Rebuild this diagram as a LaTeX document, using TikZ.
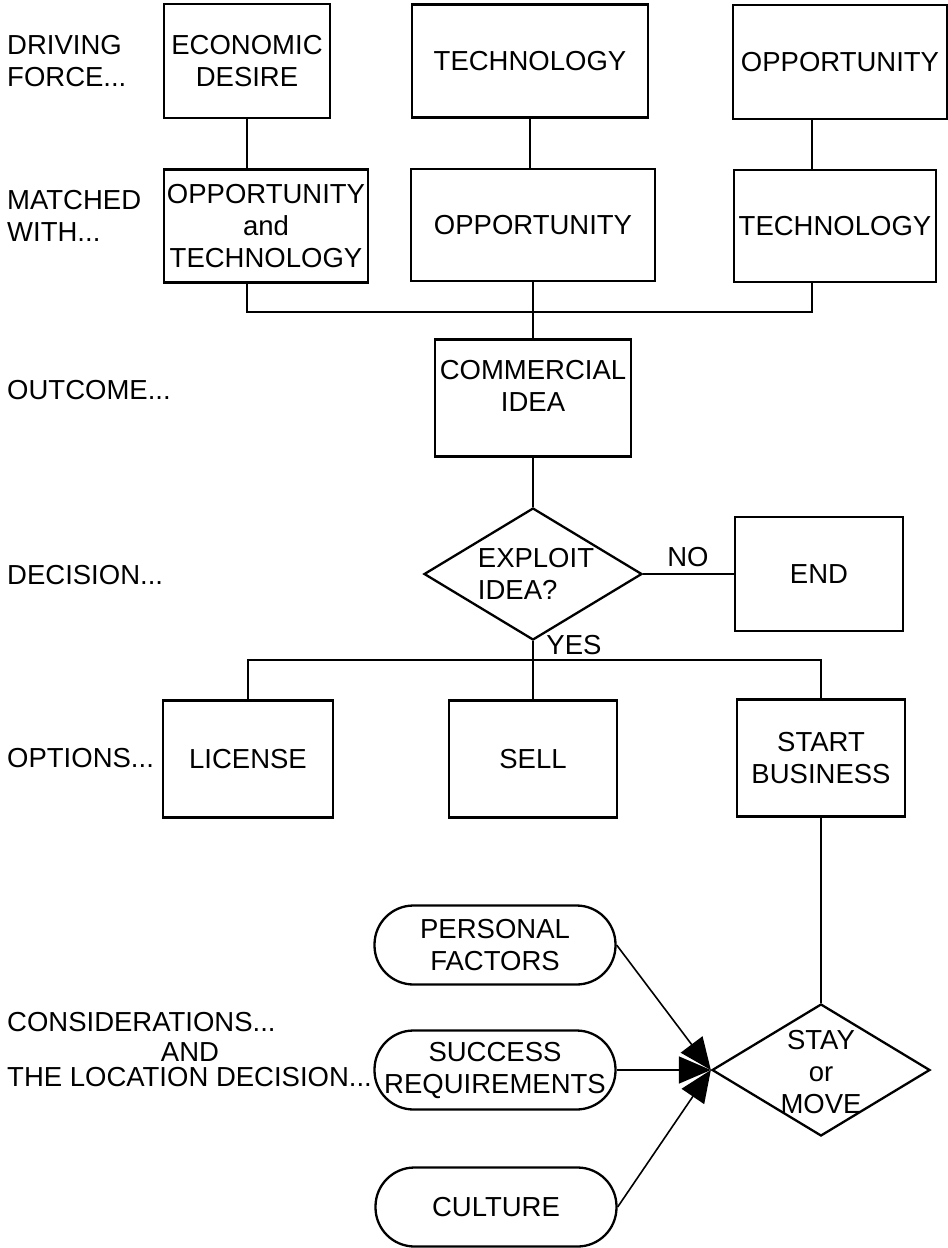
\documentclass[tikz,border=0pt]{standalone}
\usepackage{fontspec}
\setmainfont{Liberation Sans}
\usetikzlibrary{shapes.geometric,arrows.meta}

\begin{document}
\begin{tikzpicture}[x=1pt, y=-1pt,
    every node/.style={font=\fontsize{27.5}{32}\selectfont},
    box/.style={draw, line width=2.3pt, align=center, inner sep=0pt},
    pill/.style={draw, line width=2.3pt, rounded corners=39pt, align=center,
        minimum width=241pt, minimum height=79pt, inner sep=0pt},
    dia/.style={draw, diamond, line width=2.3pt, minimum width=218pt,
        minimum height=132pt, inner sep=0pt},
    lab/.style={anchor=west, align=left, inner sep=0pt},
    conn/.style={line width=2.3pt},
    arr/.style={line width=1.6pt, -{Triangle[length=32pt,width=27pt]}}]
            \useasboundingbox (0,0) rectangle (948,1248);
            % row labels
            \node[lab] (lforce) at (7,61) {DRIVING\\FORCE...};
            \node[lab] (lmatch) at (7,216) {MATCHED\\WITH...};
            \node[lab] (lout) at (7,390) {OUTCOME...};
            \node[lab] (ldec) at (7,575) {DECISION...};
            \node[lab] (lopt) at (7,758) {OPTIONS...};
            \node[lab] (lcons) at (7,1022) {CONSIDERATIONS...};
            \node[inner sep=0pt] (land) at (190,1052) {AND};
            \node[lab] (lloc) at (7,1077) {THE LOCATION DECISION...};
            % driving force and match
            \node[box, minimum width=166pt, minimum height=114pt] (econ) at (247,61) {ECONOMIC\\DESIRE};
            \node[box, minimum width=236pt, minimum height=113pt] (techtop) at (530,61) {TECHNOLOGY};
            \node[box, minimum width=214pt, minimum height=114pt] (opptop) at (840,62) {OPPORTUNITY};
            \node[box, minimum width=204pt, minimum height=113pt] (opptech) at (266,226) {OPPORTUNITY\\and\\TECHNOLOGY};
            \node[box, minimum width=244pt, minimum height=112pt] (oppmid) at (533,225) {OPPORTUNITY};
            \node[box, minimum width=202pt, minimum height=112pt] (techright) at (835,226) {TECHNOLOGY};
            \draw[conn] (econ.south) -- (econ.south |- opptech.north);
            \draw[conn] (techtop.south) -- (techtop.south |- oppmid.north);
            \draw[conn] ([xshift=-28pt]opptop.south) -- ([xshift=-23pt]techright.north);
            % outcome
            \node[box, minimum width=196pt, minimum height=117pt] (comm) at (533,398) {COMMERCIAL\\IDEA\\[-8pt]};
            \coordinate (busa) at (533,312);
            \draw[conn] (opptech.south -| econ.south) |- (busa) -| ([xshift=-23pt]techright.south);
            \draw[conn] (oppmid.south) -- (comm.north);
            % decision
            \node[dia] (exploit) at (533,574) {};
            \node[align=left, inner sep=0pt] (exploittext) at (536,574) {EXPLOIT\\IDEA?};
            \node[box, minimum width=168pt, minimum height=114pt] (end) at (819,574) {END};
            \draw[conn] (comm.south) -- (exploit.north);
            \draw[conn] (exploit.east) -- (end.west);
            \node (no) at (688,557) {NO};
            \node (yes) at (574,645) {YES};
            % options
            \node[box, minimum width=170pt, minimum height=117pt] (lic) at (248,759) {LICENSE};
            \node[box, minimum width=168pt, minimum height=117pt] (sell) at (533,759) {SELL};
            \node[box, minimum width=168pt, minimum height=117pt] (start) at (821,758) {START\\BUSINESS};
            \coordinate (busb) at (533,660);
            \draw[conn] (exploit.south) -- (sell.north);
            \draw[conn] (lic.north) |- (busb) -| (start.north);
            % considerations
            \node[pill] (pers) at (495,945) {PERSONAL\\FACTORS};
            \node[pill] (succ) at (495,1070) {SUCCESS\\REQUIREMENTS};
            \node[pill] (cult) at (496,1207) {CULTURE};
            \node[dia] (stay) at (821,1070) {};
            \node[align=center, inner sep=0pt] (staytext) at (821,1072) {STAY\\or\\MOVE};
            \draw[conn] (start.south) -- (stay.north);
            \draw[arr] (pers.east) -- (stay.west);
            \draw[arr] (succ.east) -- (stay.west);
            \draw[arr] (cult.east) -- (stay.west);
\end{tikzpicture}
\end{document}
